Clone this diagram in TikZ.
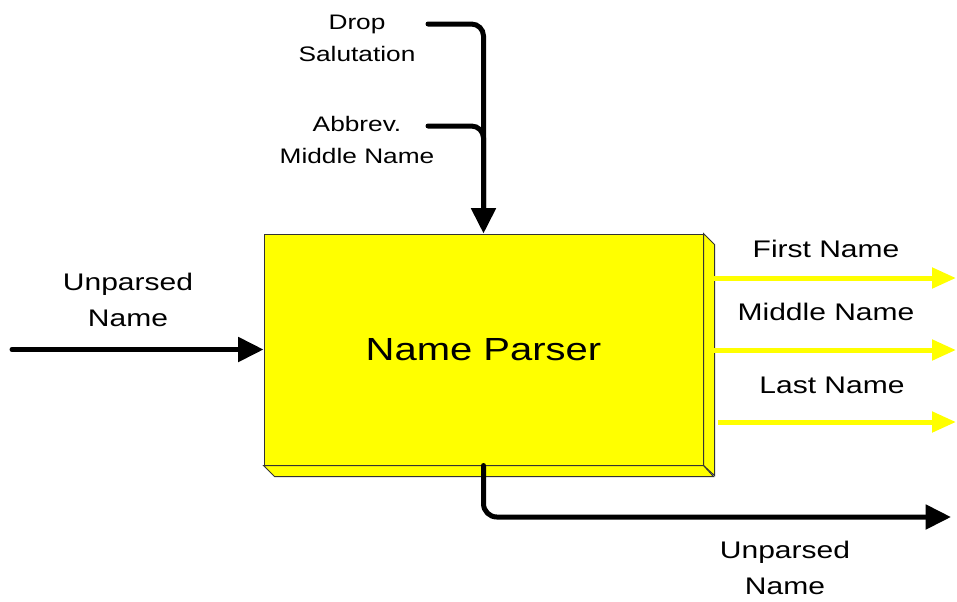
\documentclass[tikz,border=0pt]{standalone}
\usepackage{fontspec}
\setmainfont{Liberation Sans}[FakeStretch=1.25]
\usetikzlibrary{arrows.meta}
\definecolor{parseryellow}{RGB}{255,255,0}

\begin{document}
\begin{tikzpicture}[x=0.75pt,y=-0.75pt,
  box/.style={draw=black!80,line width=0.75pt,fill=parseryellow},
  flow/.style={line width=3.75pt,line cap=round,-{Triangle[length=19pt,width=18pt]}},
  wire/.style={line width=3.75pt,line cap=round},
  outflow/.style={parseryellow,line width=3.75pt,-{Triangle[length=18pt,width=15pt]}},
  lbl/.style={font=\fontsize{18}{27}\selectfont,align=center,anchor=base},
  toplbl/.style={font=\fontsize{15.75}{24}\selectfont,align=center,anchor=base}]
  \useasboundingbox (0,0) rectangle (957,601);

  \node (parser) [box,inner sep=0pt,minimum width=329.25pt,minimum height=173.25pt,
    font=\fontsize{24}{29}\selectfont] at (483.5,349.5) {Name Parser};
  \draw[box] (parser.north east) -- ++(11,11) -- ++(0,231) -- (parser.south east) -- cycle;
  \draw[box] (parser.south west) -- ++(11,11) -- ++(439,0) -- (parser.south east) -- cycle;

  % base anchor = baseline of the last line
  \node (drop) [toplbl] at (357,61.5) {Drop\\Salutation};
  \node (abbr) [toplbl] at (357,163.5) {Abbrev.\\Middle Name};
  \node (inlbl) [lbl] at (128,326) {Unparsed\\Name};
  \node (first) [lbl] at (826,257) {First Name};
  \node (middle) [lbl] at (826,320) {Middle Name};
  \node (last) [lbl] at (832,393) {Last Name};
  \node (restlbl) [lbl] at (785,594) {Unparsed\\Name};

  \coordinate (c1) at (428,24);
  \coordinate (c2) at (428,126);
  \coordinate (src) at (12,349.5);
  \coordinate (rest) at (951,517);
  \coordinate (f1) at (713,278);  \coordinate (f2) at (956,278);
  \coordinate (m1) at (713,350);  \coordinate (m2) at (956,350);
  \coordinate (l1) at (718,422);  \coordinate (l2) at (956,422);

  \draw[wire,rounded corners=9pt,shorten >=15pt] (c2) -| (parser.north);
  \draw[flow,rounded corners=9pt] (c1) -| (parser.north);
  \draw[flow] (src) -- (parser.west);
  \draw[flow,rounded corners=10pt] (parser.south) |- (rest);
  \draw[outflow] (f1) -- (f2);
  \draw[outflow] (m1) -- (m2);
  \draw[outflow] (l1) -- (l2);
\end{tikzpicture}
\end{document}
